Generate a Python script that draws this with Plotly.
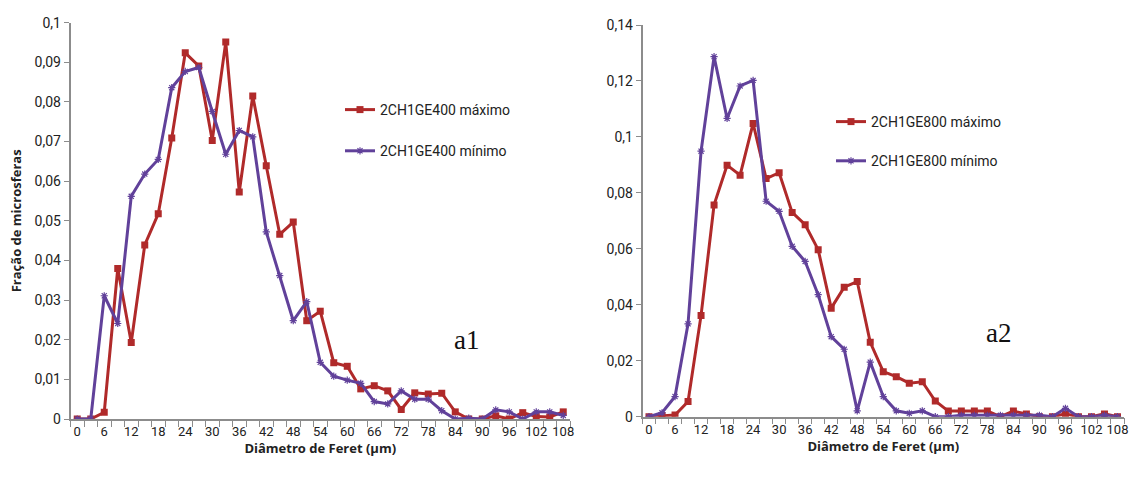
import plotly.graph_objects as go

diam = list(range(0, 109, 3))
tick_labels = [str(v) for v in range(0, 109, 6)]

max400 = [0, 0, 0.0017, 0.038, 0.0193, 0.0439, 0.0518, 0.0709, 0.0924, 0.0891,
          0.0703, 0.0951, 0.0573, 0.0815, 0.0639, 0.0466, 0.0497, 0.0248, 0.0272, 0.0142,
          0.0133, 0.0076, 0.0084, 0.0071, 0.0024, 0.0066, 0.0063, 0.0065, 0.0018, 0,
          0, 0.0008, 0, 0.0016, 0.0006, 0.0005, 0.0018]
min400 = [0, 0, 0.0311, 0.0241, 0.0562, 0.0618, 0.0655, 0.0836, 0.0877, 0.0887,
          0.0776, 0.0668, 0.0728, 0.0712, 0.0472, 0.0362, 0.0248, 0.0296, 0.0143, 0.0108,
          0.0098, 0.009, 0.0044, 0.0038, 0.0071, 0.005, 0.005, 0.0021, 0, 0.0002,
          0, 0.0023, 0.0018, 0, 0.0018, 0.0018, 0.0009]
max800 = [0, 0.0004, 0.0006, 0.0054, 0.0362, 0.0757, 0.0899, 0.0863, 0.1048, 0.0851,
          0.0872, 0.073, 0.0686, 0.0597, 0.0388, 0.0463, 0.0483, 0.0266, 0.0161, 0.0143,
          0.012, 0.0125, 0.0056, 0.002, 0.002, 0.002, 0.002, 0, 0.002, 0.001,
          0, 0, 0.001, 0, 0, 0.001, 0]
min800 = [0, 0.0014, 0.0072, 0.0332, 0.0949, 0.1287, 0.1066, 0.1182, 0.1202, 0.077,
          0.0734, 0.0609, 0.0555, 0.0436, 0.0286, 0.0241, 0.0021, 0.0195, 0.0072, 0.0021,
          0.0012, 0.0021, 0, 0, 0.0005, 0.0005, 0.0005, 0.0005, 0.0005, 0.0005,
          0.0005, 0, 0.003, 0, 0, 0.0005, 0]

RED = "#B02A2A"
PURPLE = "#61419A"
AX = "#8C8C8C"
NARROW = "Roboto, Liberation Sans Narrow, sans-serif"

W, H = 1131, 486

fig = go.Figure()

def add_pair(ymax, ymin, names, xa, ya, leg):
    fig.add_trace(go.Scatter(
        x=diam, y=ymax, name=names[0], mode="lines+markers", xaxis=xa, yaxis=ya,
        line=dict(color=RED, width=3), legend=leg, legendgroup=names[0],
        marker=dict(symbol="square", size=7, color=RED)))
    fig.add_trace(go.Scatter(
        x=diam, y=ymin, name=names[1], mode="lines+markers", xaxis=xa, yaxis=ya,
        line=dict(color=PURPLE, width=3), legend=leg, legendgroup=names[1],
        marker=dict(symbol="asterisk-open", size=6, color=PURPLE, line=dict(color=PURPLE, width=1.2))))

add_pair(max400, min400, ["2CH1GE400 máximo", "2CH1GE400 mínimo"], "x", "y", "legend")
add_pair(max800, min800, ["2CH1GE800 máximo", "2CH1GE800 mínimo"], "x2", "y2", "legend2")

def xaxis_cfg(dom):
    return dict(
        domain=dom, range=[-1.5, 109.5], tickmode="array", tickvals=list(range(0, 109, 6)),
        ticktext=tick_labels, ticks="", showgrid=False, zeroline=False, automargin=False,
        showline=True, linecolor=AX, linewidth=1.5, tickangle=0,
        tickfont=dict(family=NARROW, size=13, color="#222"),
        minor=dict(tickmode="linear", tick0=-1.5, dtick=3, ticks="outside", ticklen=6,
                   tickcolor=AX, tickwidth=1, showgrid=False),
        title=dict(text="<b>Diâmetro de Feret (µm)</b>", font=dict(family="Open Sans, sans-serif", size=13, color="#222"), standoff=6),
    )

def yaxis_cfg(dom, rng, dt, anchor):
    return dict(
        domain=dom, range=rng, dtick=dt, tick0=0, ticks="outside", ticklen=5, tickcolor=AX,
        showgrid=False, zeroline=False, showline=True, linecolor=AX, linewidth=1.5,
        automargin=False,
        tickfont=dict(family=NARROW, size=14, color="#222"), anchor=anchor,
    )

fig.update_layout(
    width=W, height=H, margin=dict(l=0, r=0, t=0, b=0),
    paper_bgcolor="white", plot_bgcolor="white",
    separators=",.",
    xaxis=dict(xaxis_cfg([70.5 / W, 570 / W]), anchor="y"),
    xaxis2=dict(xaxis_cfg([642.5 / W, 1124 / W]), anchor="y2"),
    yaxis=dict(yaxis_cfg([(H - 419) / H, (H - 22.7) / H], [0, 0.1], 0.01, "x"),
               title=dict(text="<b>Fração de microsferas</b>", font=dict(family="Open Sans, sans-serif", size=13, color="#222"), standoff=10)),
    yaxis2=yaxis_cfg([(H - 416.7) / H, (H - 25) / H], [0, 0.14], 0.02, "x2"),
    legend=dict(x=340 / W, y=1 - 94 / H, xanchor="left", yanchor="top", bgcolor="rgba(0,0,0,0)",
                font=dict(family=NARROW, size=14, color="#222"), tracegroupgap=20, itemwidth=30),
    legend2=dict(x=831 / W, y=1 - 106 / H, xanchor="left", yanchor="top", bgcolor="rgba(0,0,0,0)",
                 font=dict(family=NARROW, size=14, color="#222"), tracegroupgap=18, itemwidth=30),
    showlegend=True,
    annotations=[
        dict(text="a1", x=466 / W, y=1 - 357 / H, xref="paper", yref="paper", showarrow=False,
             font=dict(family="Liberation Serif, serif", size=27, color="#111")),
        dict(text="a2", x=1013 / W, y=1 - 350 / H, xref="paper", yref="paper", showarrow=False,
             font=dict(family="Liberation Serif, serif", size=27, color="#111")),
    ],
)

fig.write_html("out.html")
